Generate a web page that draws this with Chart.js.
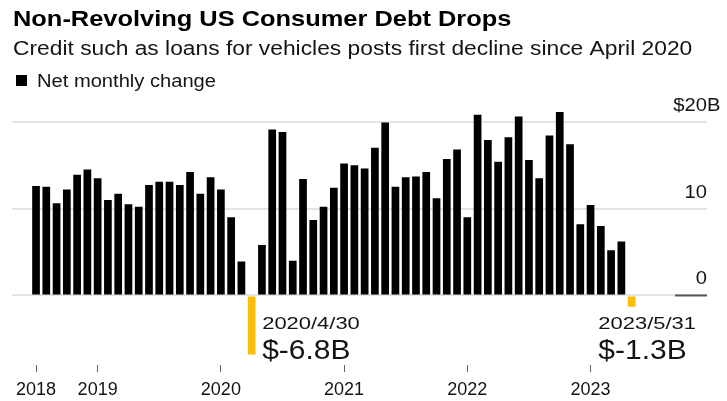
<!DOCTYPE html>
<html>
<head>
<meta charset="utf-8">
<script src="https://cdn.jsdelivr.net/npm/chart.js@4"></script>
<style>
html,body{margin:0;padding:0;background:#fff;}
#wrap{position:relative;width:727px;height:401px;}
</style>
</head>
<body>
<div id="wrap"><canvas id="c" width="727" height="401"></canvas></div>
<script>
const TITLE = "Non-Revolving US Consumer Debt Drops";
const SUBTITLE = "Credit such as loans for vehicles posts first decline since April 2020";
const SERIES_NAME = "Net monthly change";

const months = [
  "2018-07","2018-08","2018-09","2018-10","2018-11","2018-12",
  "2019-01","2019-02","2019-03","2019-04","2019-05","2019-06","2019-07","2019-08","2019-09","2019-10","2019-11","2019-12",
  "2020-01","2020-02","2020-03","2020-04","2020-05","2020-06","2020-07","2020-08","2020-09","2020-10","2020-11","2020-12",
  "2021-01","2021-02","2021-03","2021-04","2021-05","2021-06","2021-07","2021-08","2021-09","2021-10","2021-11","2021-12",
  "2022-01","2022-02","2022-03","2022-04","2022-05","2022-06","2022-07","2022-08","2022-09","2022-10","2022-11","2022-12",
  "2023-01","2023-02","2023-03","2023-04","2023-05"
];
const values = [
  12.6,12.5,10.6,12.2,13.9,14.5,
  13.5,11.0,11.7,10.5,10.2,12.7,13.1,13.1,12.7,14.2,11.7,13.6,
  12.2,9.0,3.9,-6.8,5.8,19.1,18.8,4.0,13.4,8.7,10.2,12.4,
  15.2,15.0,14.6,17.0,19.9,12.5,13.6,13.7,14.2,11.2,15.7,16.8,
  9.0,20.8,17.9,15.4,18.2,20.6,15.6,13.5,18.4,21.1,17.4,8.2,
  10.4,8.0,5.2,6.2,-1.3
];
const yTicks = [0, 10, 20];

const FONT = "'Liberation Sans', Arial, Helvetica, sans-serif";
const BLACK = "#000000";
const YELLOW = "#fbbd0b";
const TEXT = "#141414";

function drawText(ctx, s, px, py, font, color, align, sx) {
  ctx.save();
  ctx.font = font;
  ctx.fillStyle = color;
  ctx.textBaseline = "alphabetic";
  ctx.textAlign = align;
  ctx.translate(px, py);
  ctx.scale(sx, 1);
  ctx.fillText(s, 0, 0);
  ctx.restore();
}
function textWidth(ctx, s, font, sx) {
  ctx.save(); ctx.font = font; const w = ctx.measureText(s).width * sx; ctx.restore(); return w;
}

const decor = {
  id: "decor",
  afterDraw(chart) {
    const { ctx, chartArea, scales: { x, y } } = chart;
    // header
    drawText(ctx, TITLE, 13, 26, `bold 22px ${FONT}`, "#000", "left", 1.155);
    drawText(ctx, SUBTITLE, 13, 55, `20px ${FONT}`, TEXT, "left", 1.14);
    ctx.fillStyle = BLACK;
    ctx.fillRect(16, 75, 11, 11);
    drawText(ctx, SERIES_NAME, 37, 86.5, `17.5px ${FONT}`, TEXT, "left", 1.15);

    // y labels (above gridlines, right aligned)
    const yf = `18px ${FONT}`, ysx = 1.12;
    const topTick = Math.max(...yTicks);
    yTicks.forEach(v => {
      const py = y.getPixelForValue(v) - 11;
      const num = String(v);
      drawText(ctx, num, chartArea.right, py, yf, TEXT, "right", ysx);
      if (v === topTick) {
        const w = textWidth(ctx, num, yf, ysx);
        drawText(ctx, "$", chartArea.right - w, py, yf, TEXT, "right", ysx);
        drawText(ctx, "B", chartArea.right, py, yf, TEXT, "left", ysx);
      }
    });
    // dark zero marker under the 0 label
    const y0 = y.getPixelForValue(0);
    ctx.save();
    ctx.strokeStyle = "#555";
    ctx.lineWidth = 2;
    ctx.beginPath();
    ctx.moveTo(chartArea.right - 32, y0);
    ctx.lineTo(chartArea.right, y0);
    ctx.stroke();
    ctx.restore();

    // annotations for negative months
    const df = `16.5px ${FONT}`, dsx = 1.33;
    const vf = `28px ${FONT}`, vsx = 1.07;
    values.forEach((v, i) => {
      if (v >= 0) return;
      const [yy, mm] = months[i].split("-").map(Number);
      const day = new Date(yy, mm, 0).getDate();
      const dateStr = `${yy}/${mm}/${day}`;
      const valStr = `$${v.toFixed(1)}B`;
      const bx = x.getPixelForValue(i);
      const dw = textWidth(ctx, dateStr, df, dsx);
      let left = bx + 10.5;
      if (left + dw > chartArea.right - 11) left = chartArea.right - 11 - dw;
      drawText(ctx, dateStr, left, y0 + 33.5, df, TEXT, "left", dsx);
      drawText(ctx, valStr, left, y0 + 64, vf, TEXT, "left", vsx);
    });
  }
};

new Chart(document.getElementById("c"), {
  type: "bar",
  data: {
    datasets: [{
      label: SERIES_NAME,
      data: values.map((v, i) => ({ x: i, y: v })),
      backgroundColor: values.map(v => (v < 0 ? YELLOW : BLACK)),
      borderWidth: 0,
      barPercentage: 0.75,
      categoryPercentage: 1
    }]
  },
  options: {
    responsive: false,
    animation: false,
    devicePixelRatio: 1,
    layout: { padding: { top: 104.3, right: 20, bottom: -8, left: 12 } },
    plugins: { legend: { display: false }, tooltip: { enabled: false }, title: { display: false } },
    scales: {
      x: {
        type: "linear",
        min: -2.34,
        max: 65.34,
        offset: false,
        afterBuildTicks: s => {
          s.ticks = months.map((m, i) => ({ value: i }))
            .filter(t => t.value === 0 || months[t.value].endsWith("-01"));
        },
        grid: { offset: false, drawOnChartArea: false, drawTicks: true, tickLength: 7, color: "#666", lineWidth: 1 },
        border: { display: false },
        ticks: {
          autoSkip: false, maxRotation: 0, minRotation: 0, padding: 7.7,
          font: { family: FONT, size: 18 }, color: TEXT,
          callback: v => months[v] ? months[v].slice(0, 4) : ""
        }
      },
      y: {
        position: "right",
        min: -8,
        max: 22,
        afterBuildTicks: s => { s.ticks = yTicks.map(v => ({ value: v })); },
        grid: { color: "#e4e4e4", lineWidth: 2, drawTicks: false },
        border: { display: false },
        ticks: { display: false }
      }
    }
  },
  plugins: [decor]
});
</script>
</body>
</html>
